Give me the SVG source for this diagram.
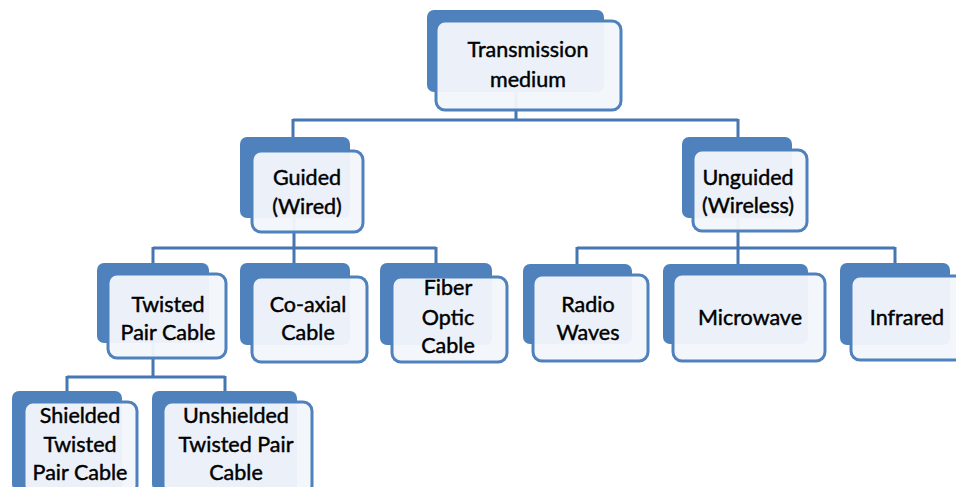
<svg xmlns="http://www.w3.org/2000/svg" width="956" height="487" viewBox="0 0 956 487">
<style>
.back{fill:#4f81bd;}
.front{fill:#f3f6fb;fill-opacity:0.96;stroke:#4f81bd;stroke-width:3;}
.conn{fill:none;stroke:#4677b3;stroke-width:3;}
text{font-family:Lato,"Liberation Sans",sans-serif;font-size:21.5px;fill:#000;stroke:#000;stroke-width:0.45;text-anchor:middle;}
</style>
<rect width="956" height="487" fill="#ffffff"/>
<g id="connectors">
<path class="conn" d="M516,92 V120 M293,120 H738 M293,119 V137 M738,119 V137"/>
<path class="conn" d="M294,218 V248 M153,248 H436 M153,247 V263 M294,247 V263 M436,247 V263"/>
<path class="conn" d="M738,218 V248 M577,248 H895 M577,247 V264 M738,247 V264 M895,247 V263"/>
<path class="conn" d="M153,343 V377 M67,377 H225 M67,376 V391 M225,376 V391"/>
</g>
<g id="n-root">
<rect class="back" x="427" y="10" width="177" height="82" rx="7"/>
<rect class="front" x="436" y="21" width="185" height="89" rx="9"/>
<text x="528" y="57">Transmission</text>
<text x="528" y="87">medium</text>
</g>
<g id="n-guided">
<rect class="back" x="240" y="137" width="110" height="81" rx="7"/>
<rect class="front" x="252" y="151" width="111" height="81" rx="9"/>
<text x="307" y="185">Guided</text>
<text x="307" y="214">(Wired)</text>
</g>
<g id="n-unguided">
<rect class="back" x="682" y="137" width="110" height="81" rx="7"/>
<rect class="front" x="693" y="150" width="114" height="81" rx="9"/>
<text x="748" y="185">Unguided</text>
<text x="748" y="213">(Wireless)</text>
</g>
<g id="n-twisted">
<rect class="back" x="97" y="263" width="112" height="80" rx="7"/>
<rect class="front" x="108" y="274" width="118" height="84" rx="9"/>
<text x="168" y="312">Twisted</text>
<text x="168" y="340">Pair Cable</text>
</g>
<g id="n-coaxial">
<rect class="back" x="240" y="263" width="110" height="82" rx="7"/>
<rect class="front" x="252" y="277" width="115" height="85" rx="9"/>
<text x="308" y="312">Co-axial</text>
<text x="308" y="340">Cable</text>
</g>
<g id="n-fiber">
<rect class="back" x="380" y="263" width="112" height="82" rx="7"/>
<rect class="front" x="392" y="277" width="115" height="85" rx="9"/>
<text x="448" y="295">Fiber</text>
<text x="448" y="325">Optic</text>
<text x="448" y="353">Cable</text>
</g>
<g id="n-radio">
<rect class="back" x="523" y="264" width="109" height="80" rx="7"/>
<rect class="front" x="533" y="275" width="115" height="86" rx="9"/>
<text x="588" y="312">Radio</text>
<text x="588" y="340">Waves</text>
</g>
<g id="n-microwave">
<rect class="back" x="663" y="264" width="145" height="80" rx="7"/>
<rect class="front" x="673" y="274" width="152" height="87" rx="9"/>
<text x="750" y="325">Microwave</text>
</g>
<g id="n-infrared">
<rect class="back" x="840" y="263" width="110" height="82" rx="7"/>
<rect class="front" x="851" y="276" width="120" height="84" rx="9"/>
<text x="907" y="325">Infrared</text>
</g>
<g id="n-shielded">
<rect class="back" x="12" y="391" width="110" height="100" rx="7"/>
<rect class="front" x="24" y="402" width="113" height="92" rx="9"/>
<text x="80" y="423">Shielded</text>
<text x="80" y="452">Twisted</text>
<text x="80" y="480">Pair Cable</text>
</g>
<g id="n-unshielded">
<rect class="back" x="152" y="391" width="145" height="100" rx="7"/>
<rect class="front" x="163" y="402" width="149" height="92" rx="9"/>
<text x="236" y="423">Unshielded</text>
<text x="236" y="452">Twisted Pair</text>
<text x="236" y="480">Cable</text>
</g>
</svg>
